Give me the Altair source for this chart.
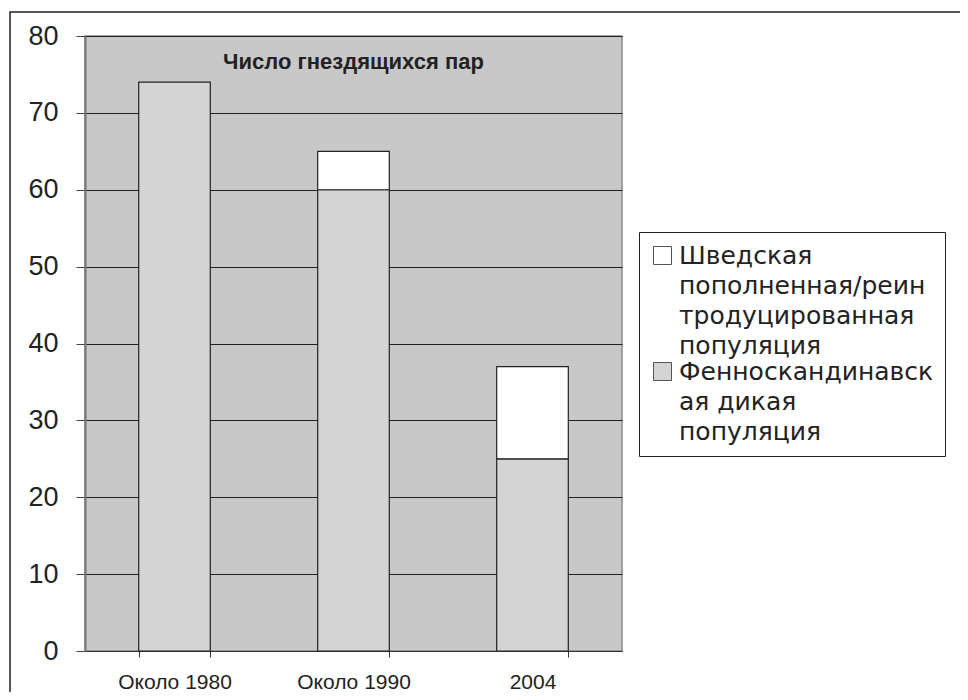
import altair as alt
import pandas as pd

# ---------------- data ----------------
periods = ["Около 1980", "Около 1990", "2004"]
wild_pairs = [74, 60, 25]
swedish_pairs = [0, 5, 12]
series_names = [
    "Шведская пополненная/реинтродуцированная популяция",
    "Фенноскандинавская дикая популяция",
]
legend_lines = [
    ["Шведская", "пополненная/реин", "тродуцированная", "популяция"],
    ["Фенноскандинавск", "ая дикая", "популяция"],
]
series_colors = ["#ffffff", "#d4d4d4"]
y_ticks = [0, 10, 20, 30, 40, 50, 60, 70, 80]
chart_title = "Число гнездящихся пар"

rows = []
for i, p in enumerate(periods):
    if wild_pairs[i] > 0:
        rows.append({"period": p, "series": series_names[1], "value": wild_pairs[i], "ord": 0})
    if swedish_pairs[i] > 0:
        rows.append({"period": p, "series": series_names[0], "value": swedish_pairs[i], "ord": 1})
df = pd.DataFrame(rows)

FONT = "Liberation Sans, Arial, sans-serif"
LEGEND_FONT = "DejaVu Sans, Liberation Sans, sans-serif"
LABEL_DY = 8


def arr(lines):
    return "[" + ",".join("'" + s + "'" for s in lines) + "]"


label_expr = (
    "datum.label == '" + series_names[0] + "' ? " + arr(legend_lines[0]) + " : " + arr(legend_lines[1])
)

bars = (
    alt.Chart(df)
    .mark_bar(stroke="#222222", strokeWidth=1.2)
    .encode(
        x=alt.X(
            "period:N",
            sort=periods,
            scale=alt.Scale(paddingInner=0.6, paddingOuter=0.3),
            axis=alt.Axis(
                title=None,
                labelAngle=0,
                labelFont=FONT,
                labelFontSize=21,
                labelColor="#222222",
                labelPadding=14 - LABEL_DY,
                labelBaseline="top",
                tickBand="extent",
                tickSize=6,
                tickColor="#333333",
                domainColor="#333333",
                domainWidth=1.2,
                grid=False,
            ),
        ),
        y=alt.Y(
            "value:Q",
            stack="zero",
            scale=alt.Scale(domain=[0, 80], nice=False),
            axis=alt.Axis(
                title=None,
                values=y_ticks,
                labelFont=FONT,
                labelFontSize=27,
                labelColor="#222222",
                labelPadding=18,
                labelOffset=-LABEL_DY,
                tickSize=9,
                tickColor="#444444",
                domainColor="#777777",
                domainWidth=2,
                grid=True,
                gridColor="#222222",
                gridWidth=1.2,
            ),
        ),
        color=alt.Color(
            "series:N",
            scale=alt.Scale(domain=series_names, range=series_colors),
            legend=alt.Legend(
                title=None,
                orient="none",
                legendX=554,
                legendY=196,
                fillColor="#ffffff",
                strokeColor="#222222",
                padding=11,
                symbolType="square",
                symbolSize=324,
                symbolStrokeColor="#555555",
                symbolStrokeWidth=1,
                labelFont=LEGEND_FONT,
                labelFontSize=25,
                labelColor="#222222",
                labelLimit=500,
                labelExpr=label_expr,
                labelBaseline="alphabetic",
                labelOffset=4,
                rowPadding=0,
            ),
        ),
        order=alt.Order("ord:Q"),
    )
)

frame = (
    alt.Chart(alt.Data(values=[{"k": 1}]))
    .mark_rect(fillOpacity=0, stroke="#222222", strokeWidth=1.5)
    .encode(
        x=alt.value(-75),
        x2=alt.value(1000),
        y=alt.value(-24),
        y2=alt.value(720),
    )
)

chart = (
    alt.layer(bars, frame)
    .properties(
        width=537,
        height=615,
        autosize=alt.AutoSizeParams(type="none"),
        padding={"left": 77, "top": 28, "right": 338, "bottom": 41},
        title=alt.TitleParams(
            chart_title,
            anchor="middle",
            frame="group",
            offset=0,
            dy=80,
            baseline="alphabetic",
            font=FONT,
            fontSize=22,
            fontWeight="bold",
            color="#222222",
        ),
        background="#ffffff",
    )
    .configure_view(fill="#c8c8c8", stroke="#888888", strokeWidth=1.5)
)
chart.config.style = {"guide-label": {"lineHeight": 30, "dy": LABEL_DY}}

chart.save("out.html", embed_options={"renderer": "svg", "actions": False})
